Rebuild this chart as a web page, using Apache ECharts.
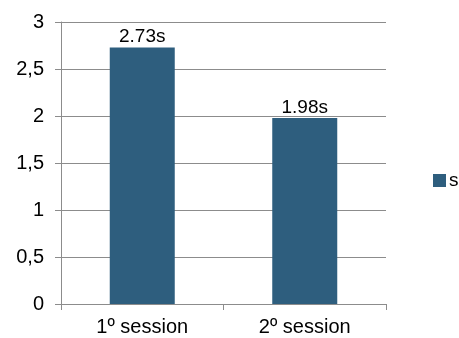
<!DOCTYPE html>
<html>
<head>
<meta charset="utf-8">
<script src="https://cdn.jsdelivr.net/npm/echarts@6/dist/echarts.min.js"></script>
<style>
html,body{margin:0;padding:0;background:#fff;}
#c{width:459px;height:338px;}
</style>
</head>
<body>
<div id="c"></div>
<script>
var categories = ['1º session', '2º session'];
var seriesName = 's';
var values = [2.73, 1.98];
var yTicks = [0, 0.5, 1, 1.5, 2, 2.5, 3];

var chart = echarts.init(document.getElementById('c'), null, {renderer: 'canvas'});
var font = 'Liberation Sans, Arial, sans-serif';
chart.setOption({
  animation: false,
  backgroundColor: '#ffffff',
  grid: {left: 61, right: 73, top: 22, bottom: 34, containLabel: false},
  legend: {
    data: [seriesName],
    left: 428, top: 166,
    icon: 'rect', itemWidth: 13, itemHeight: 13, itemGap: 5,
    textStyle: {fontFamily: font, fontSize: 19, color: '#000', padding: [0, 0, 0, -2]}
  },
  xAxis: {
    type: 'category',
    data: categories,
    axisLine: {lineStyle: {color: '#8c8c8c', width: 1}},
    axisTick: {show: true, length: 6, lineStyle: {color: '#8c8c8c'}},
    axisLabel: {fontFamily: font, fontSize: 20, color: '#000', margin: 13}
  },
  yAxis: {
    type: 'value',
    min: yTicks[0], max: yTicks[yTicks.length - 1], interval: 0.5,
    axisLine: {show: true, lineStyle: {color: '#8c8c8c', width: 1}},
    axisTick: {show: true, length: 6, lineStyle: {color: '#8c8c8c'}},
    splitLine: {show: true, lineStyle: {color: '#8c8c8c', width: 1}},
    axisLabel: {
      fontFamily: font, fontSize: 20, color: '#000', margin: 17,
      formatter: function (v) { return String(v).replace('.', ','); }
    }
  },
  series: [{
    name: seriesName,
    type: 'bar',
    data: values,
    barWidth: '40%',
    itemStyle: {color: '#2e5e7e'},
    label: {
      show: true, position: 'top', distance: 1,
      fontFamily: font, fontSize: 19, color: '#000',
      formatter: function (p) { return p.value.toFixed(2) + 's'; }
    }
  }]
});
</script>
</body>
</html>
